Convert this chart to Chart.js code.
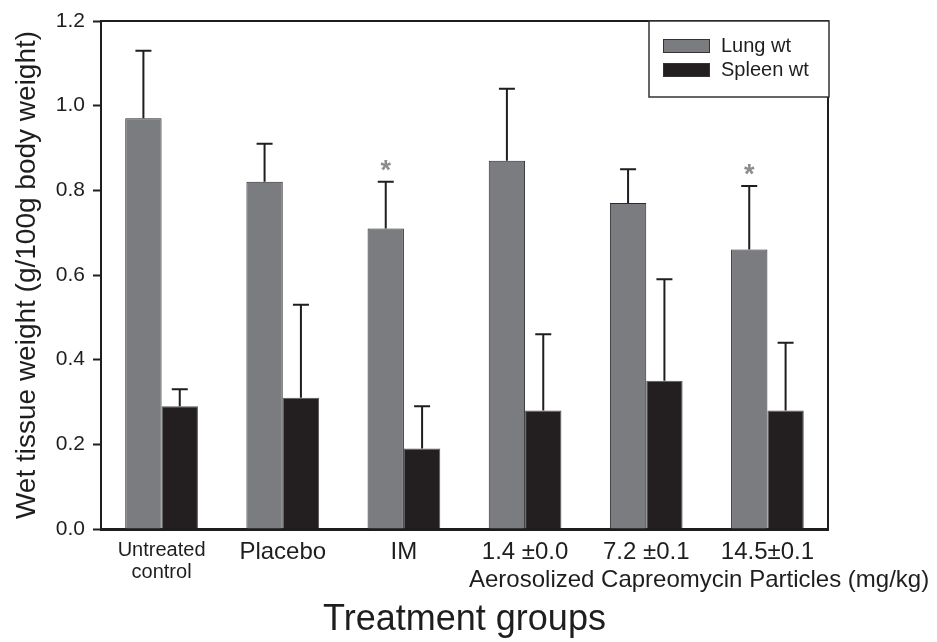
<!DOCTYPE html>
<html>
<head>
<meta charset="utf-8">
<script src="https://cdn.jsdelivr.net/npm/chart.js@4/dist/chart.umd.min.js"></script>
<style>
  html, body { margin: 0; background: #fff; }
</style>
</head>
<body>
<canvas id="chart" width="937" height="642"></canvas>
<script>
const groups = [["Untreated", "control"], "Placebo", "IM", "1.4 ±0.0", "7.2 ±0.1", "14.5±0.1"];
const lungWt = [0.97, 0.82, 0.71, 0.87, 0.77, 0.66];
const lungSd = [0.16, 0.09, 0.11, 0.17, 0.08, 0.15];
const spleenWt = [0.29, 0.31, 0.19, 0.28, 0.35, 0.28];
const spleenSd = [0.04, 0.22, 0.10, 0.18, 0.24, 0.16];
const lungStar = [false, false, true, false, false, true];
const seriesNames = ["Lung wt", "Spleen wt"];
const subTitle = "Aerosolized Capreomycin Particles (mg/kg)";

const lungColor = "#7b7c80";
const spleenColor = "#231f20";
const ink = "#1e1e1e";
const fontFamily = "'Liberation Sans', Arial, sans-serif";

// error bars (upper only), stars, frame, legend, sub label
const extras = {
    id: "extras",
    afterDatasetsDraw(chart) {
        const ctx = chart.ctx;
        const y = chart.scales.y;
        const area = chart.chartArea;
        const sds = [lungSd, spleenSd];
        const vals = [lungWt, spleenWt];

        ctx.save();
        ctx.strokeStyle = ink;
        ctx.lineWidth = 2;
        sds.forEach((sd, i) => {
            chart.getDatasetMeta(i).data.forEach((bar, j) => {
                const top = y.getPixelForValue(vals[i][j] + sd[j]);
                ctx.beginPath();
                ctx.moveTo(bar.x, bar.y);
                ctx.lineTo(bar.x, top);
                ctx.moveTo(bar.x - 8, top);
                ctx.lineTo(bar.x + 8, top);
                ctx.stroke();
                if (i === 0 && lungStar[j]) {
                    ctx.fillStyle = "#8c8c8c";
                    ctx.font = "bold 27px " + fontFamily;
                    ctx.textAlign = "center";
                    ctx.textBaseline = "alphabetic";
                    ctx.fillText("*", bar.x, top - 3);
                }
            });
        });

        // top and right frame
        ctx.lineWidth = 2;
        ctx.beginPath();
        ctx.moveTo(area.left, area.top);
        ctx.lineTo(area.right, area.top);
        ctx.lineTo(area.right, area.bottom);
        ctx.stroke();

        // legend box
        const lx = 649, ly = area.top, lw = area.right - 649 + 1, lh = 76;
        ctx.fillStyle = "#fff";
        ctx.fillRect(lx, ly, lw, lh);
        ctx.lineWidth = 1.5;
        ctx.strokeStyle = "#333";
        ctx.strokeRect(lx, ly, lw, lh);
        const swatch = [lungColor, spleenColor];
        ctx.font = "20px " + fontFamily;
        ctx.textAlign = "left";
        ctx.textBaseline = "middle";
        seriesNames.forEach((name, i) => {
            const sy = 39 + i * 24;
            ctx.fillStyle = swatch[i];
            ctx.fillRect(663, sy, 47, 14);
            ctx.lineWidth = 1;
            ctx.strokeStyle = "#333";
            ctx.strokeRect(663.5, sy + 0.5, 46, 13);
            ctx.fillStyle = ink;
            ctx.fillText(name, 721, sy + 7);
        });

        // second line under the dose labels
        ctx.font = "24px " + fontFamily;
        ctx.textAlign = "left";
        ctx.textBaseline = "alphabetic";
        ctx.fillStyle = ink;
        ctx.fillText(subTitle, 469, 587);
        ctx.restore();
    }
};

new Chart(document.getElementById("chart"), {
    type: "bar",
    data: {
        labels: groups,
        datasets: [
            { label: seriesNames[0], data: lungWt, backgroundColor: lungColor, borderColor: "#2a2a2a", borderWidth: 1 },
            { label: seriesNames[1], data: spleenWt, backgroundColor: spleenColor, borderColor: "#555", borderWidth: 1 }
        ]
    },
    options: {
        responsive: false,
        animation: false,
        devicePixelRatio: 1,
        layout: { padding: { left: 0, right: 109, top: 21, bottom: 0 } },
        datasets: { bar: { categoryPercentage: 0.6, barPercentage: 1.0 } },
        plugins: { legend: { display: false }, tooltip: { enabled: false } },
        scales: {
            x: {
                afterFit: (s) => { s.height = 113; },
                grid: { drawOnChartArea: false, drawTicks: false },
                border: { color: ink, width: 3 },
                ticks: {
                    color: ink,
                    padding: 10,
                    font: (c) => c.index === 0
                        ? { family: fontFamily, size: 20, lineHeight: 1.1 }
                        : { family: fontFamily, size: 24, lineHeight: 1.1 }
                },
                title: {
                    display: true,
                    text: "Treatment groups",
                    color: ink,
                    font: { family: fontFamily, size: 36 },
                    padding: { top: 0, bottom: 0 }
                }
            },
            y: {
                min: 0,
                max: 1.2,
                afterFit: (s) => { s.width = 101; },
                grid: { drawOnChartArea: false, drawTicks: true, tickLength: 8, tickColor: ink, tickWidth: 2 },
                border: { color: ink, width: 2 },
                ticks: {
                    stepSize: 0.2,
                    padding: 8,
                    color: ink,
                    font: { family: fontFamily, size: 21 },
                    callback: (v) => v.toFixed(1)
                },
                title: {
                    display: true,
                    text: "Wet tissue weight (g/100g body weight)",
                    color: ink,
                    font: { family: fontFamily, size: 28 },
                    padding: { top: 10, bottom: 0 }
                }
            }
        }
    },
    plugins: [extras]
});
</script>
</body>
</html>
